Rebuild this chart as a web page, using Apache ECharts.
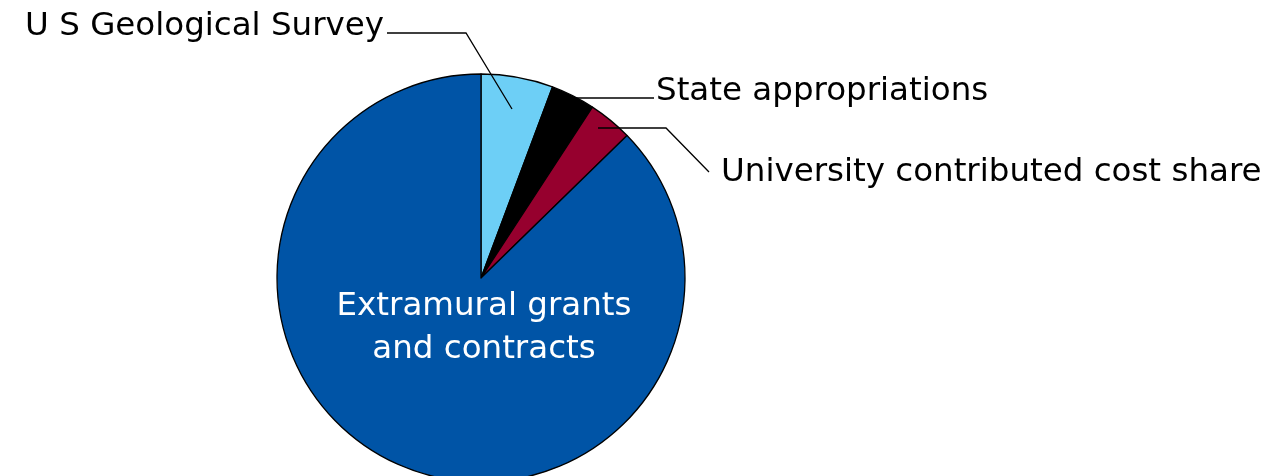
<!DOCTYPE html>
<html>
<head>
<meta charset="utf-8">
<script src="https://cdn.jsdelivr.net/npm/echarts@6/dist/echarts.min.js"></script>
<style>
html,body{margin:0;padding:0;background:#fff;}
#chart{width:1268px;height:476px;}
</style>
</head>
<body>
<div id="chart"></div>
<script>
// Data
const categories = ['U S Geological Survey', 'State appropriations', 'University contributed cost share', 'Extramural grants\nand contracts'];
const shares = [5.7, 3.5, 3.5, 87.3];
const colors = ['#6dcff6', '#000000', '#96002e', '#0054a6'];

const FONT = 'DejaVu Sans';
const FS = 32.5;
const chart = echarts.init(document.getElementById('chart'), null, {renderer: 'canvas'});

// label placement (layout only)
const labelPlacement = [
  {x: 384, y: 27, align: 'right', line: [[512,109],[466,33],[387,33]]},
  {x: 656, y: 92, align: 'left', line: [[574,98],[654,98]]},
  {x: 721, y: 173, align: 'left', line: [[598,128],[666,128],[709,172]]},
  {x: 484, y: 328, align: 'center', line: null}
];

const pieBase = {
  type: 'pie',
  center: [481, 278],
  radius: 204,
  startAngle: 90,
  clockwise: true,
  avoidLabelOverlap: false,
  silent: true
};

chart.setOption({
  animation: false,
  backgroundColor: '#ffffff',
  series: [
    Object.assign({}, pieBase, {
      z: 2,
      itemStyle: {borderColor: '#000', borderWidth: 1.3},
      label: {show: false},
      labelLine: {show: false},
      data: categories.map((c, i) => ({name: c, value: shares[i], itemStyle: {color: colors[i]}}))
    }),
    Object.assign({}, pieBase, {
      z: 6,
      itemStyle: {color: 'rgba(0,0,0,0)', borderWidth: 0},
      label: {
        show: true,
        position: 'outside',
        color: '#000',
        fontFamily: FONT,
        fontSize: FS,
        lineHeight: 43
      },
      labelLine: {show: true, lineStyle: {color: '#000', width: 1.3}, length: 20, length2: 20},
      labelLayout: function (p) {
        const L = labelPlacement[p.dataIndex];
        const r = {x: L.x, y: L.y, align: L.align, verticalAlign: 'middle'};
        if (L.line) r.labelLinePoints = L.line;
        return r;
      },
      data: categories.map((c, i) => {
        const d = {name: c, value: shares[i]};
        if (i === 3) {
          d.label = {position: 'inside', color: '#fff', fontFamily: FONT, fontSize: FS, lineHeight: 43, align: 'center'};
          d.labelLine = {show: false};
        }
        return d;
      })
    })
  ]
});
</script>
</body>
</html>
